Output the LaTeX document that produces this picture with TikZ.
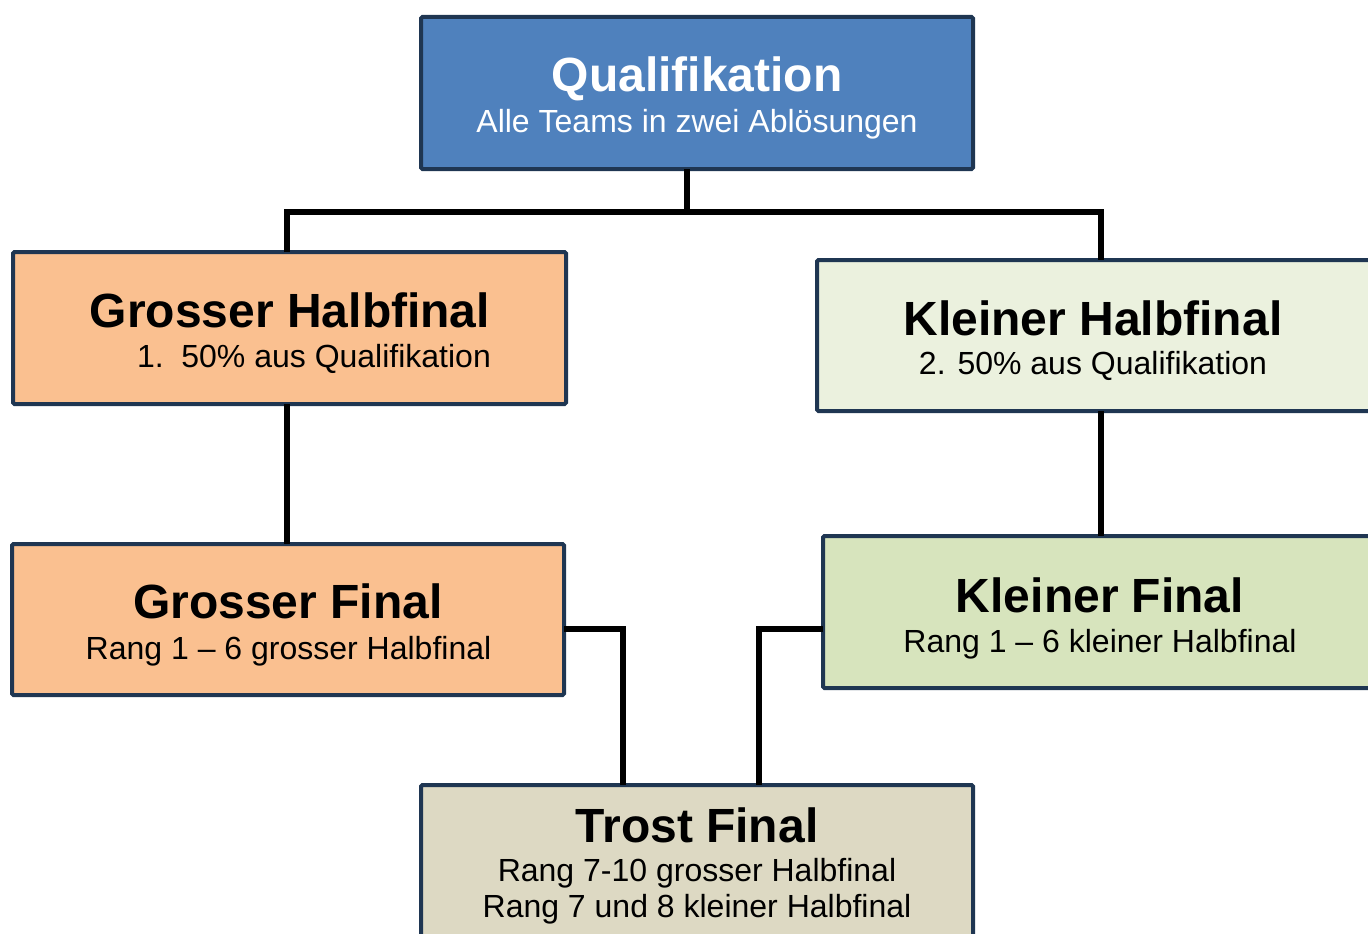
\documentclass[tikz,border=0pt]{standalone}
\usepackage{fontspec}
\setmainfont{Liberation Sans}
\definecolor{qfill}{HTML}{4F81BD}
\definecolor{orfill}{HTML}{FAC090}
\definecolor{khfill}{HTML}{EBF1DE}
\definecolor{kffill}{HTML}{D7E4BD}
\definecolor{tffill}{HTML}{DDD9C3}
\definecolor{bordercol}{HTML}{1F3652}
\tikzset{
  box/.style={draw=bordercol, line width=4pt, rounded corners=1.5pt, inner sep=0pt, outer sep=0pt, anchor=north west},
  ttl/.style={anchor=base, inner sep=0pt, font=\fontsize{48}{52}\selectfont\bfseries},
  sub/.style={anchor=base, inner sep=0pt, font=\fontsize{32}{36}\selectfont},
  conn/.style={line width=6.5pt, black, line join=miter}
}
\begin{document}
\begin{tikzpicture}[x=1pt,y=-1pt]
\useasboundingbox (0,0) rectangle (1368,934);
\clip (0,0) rectangle (1368,934);
% boxes
\node[box, fill=qfill, minimum width=552pt, minimum height=152pt] (q) at (421,17) {};
\node[box, fill=orfill, minimum width=553pt, minimum height=152pt] (gh) at (13,252) {};
\node[box, fill=khfill, minimum width=560pt, minimum height=151pt] (kh) at (817,260) {};
\node[box, fill=orfill, minimum width=552pt, minimum height=151pt] (gf) at (12,544) {};
\node[box, fill=kffill, minimum width=560pt, minimum height=152pt] (kf) at (823,536) {};
\node[box, fill=tffill, minimum width=552pt, minimum height=160pt] (tf) at (421,785) {};
% texts
\node[ttl, white] (qt) at (697,92) {Qualifikation};
\node[sub, white] (qs) at (697,132) {Alle Teams in zwei Ablösungen};
\node[ttl] (ght) at (290,327) {Grosser Halbfinal};
\node[sub] (ghs) at (314,367) {1.\hspace{0.55em}50\% aus Qualifikation};
\node[ttl] (kht) at (1093,335) {Kleiner Halbfinal};
\node[sub] (khs) at (1093,374) {2. 50\% aus Qualifikation};
\node[ttl] (gft) at (288,618) {Grosser Final};
\node[sub] (gfs) at (288.5,659) {Rang 1 – 6 grosser Halbfinal};
\node[ttl] (kft) at (1100,612) {Kleiner Final};
\node[sub] (kfs) at (1100,652) {Rang 1 – 6 kleiner Halbfinal};
\node[ttl] (tft) at (697,842) {Trost Final};
\node[sub] (tfs1) at (697,881) {Rang 7-10 grosser Halbfinal};
\node[sub] (tfs2) at (697,917) {Rang 7 und 8 kleiner Halbfinal};
% connectors
\coordinate (jq) at (687,212);
\coordinate (jl) at (287,212);
\coordinate (jr) at (1101,212);
\coordinate (tl) at (623,629);
\coordinate (tr) at (759,629);
\draw[conn] (jq |- q.south) -- (jq);
\draw[conn] (jl |- gh.north) -- (jl) -- (jr) -- (jr |- kh.north);
\draw[conn] (jl |- gh.south) -- (jl |- gf.north);
\draw[conn] (jr |- kh.south) -- (jr |- kf.north);
\draw[conn] (gf.east |- tl) -- (tl) -- (tl |- tf.north);
\draw[conn] (kf.west |- tr) -- (tr) -- (tr |- tf.north);
\end{tikzpicture}
\end{document}
